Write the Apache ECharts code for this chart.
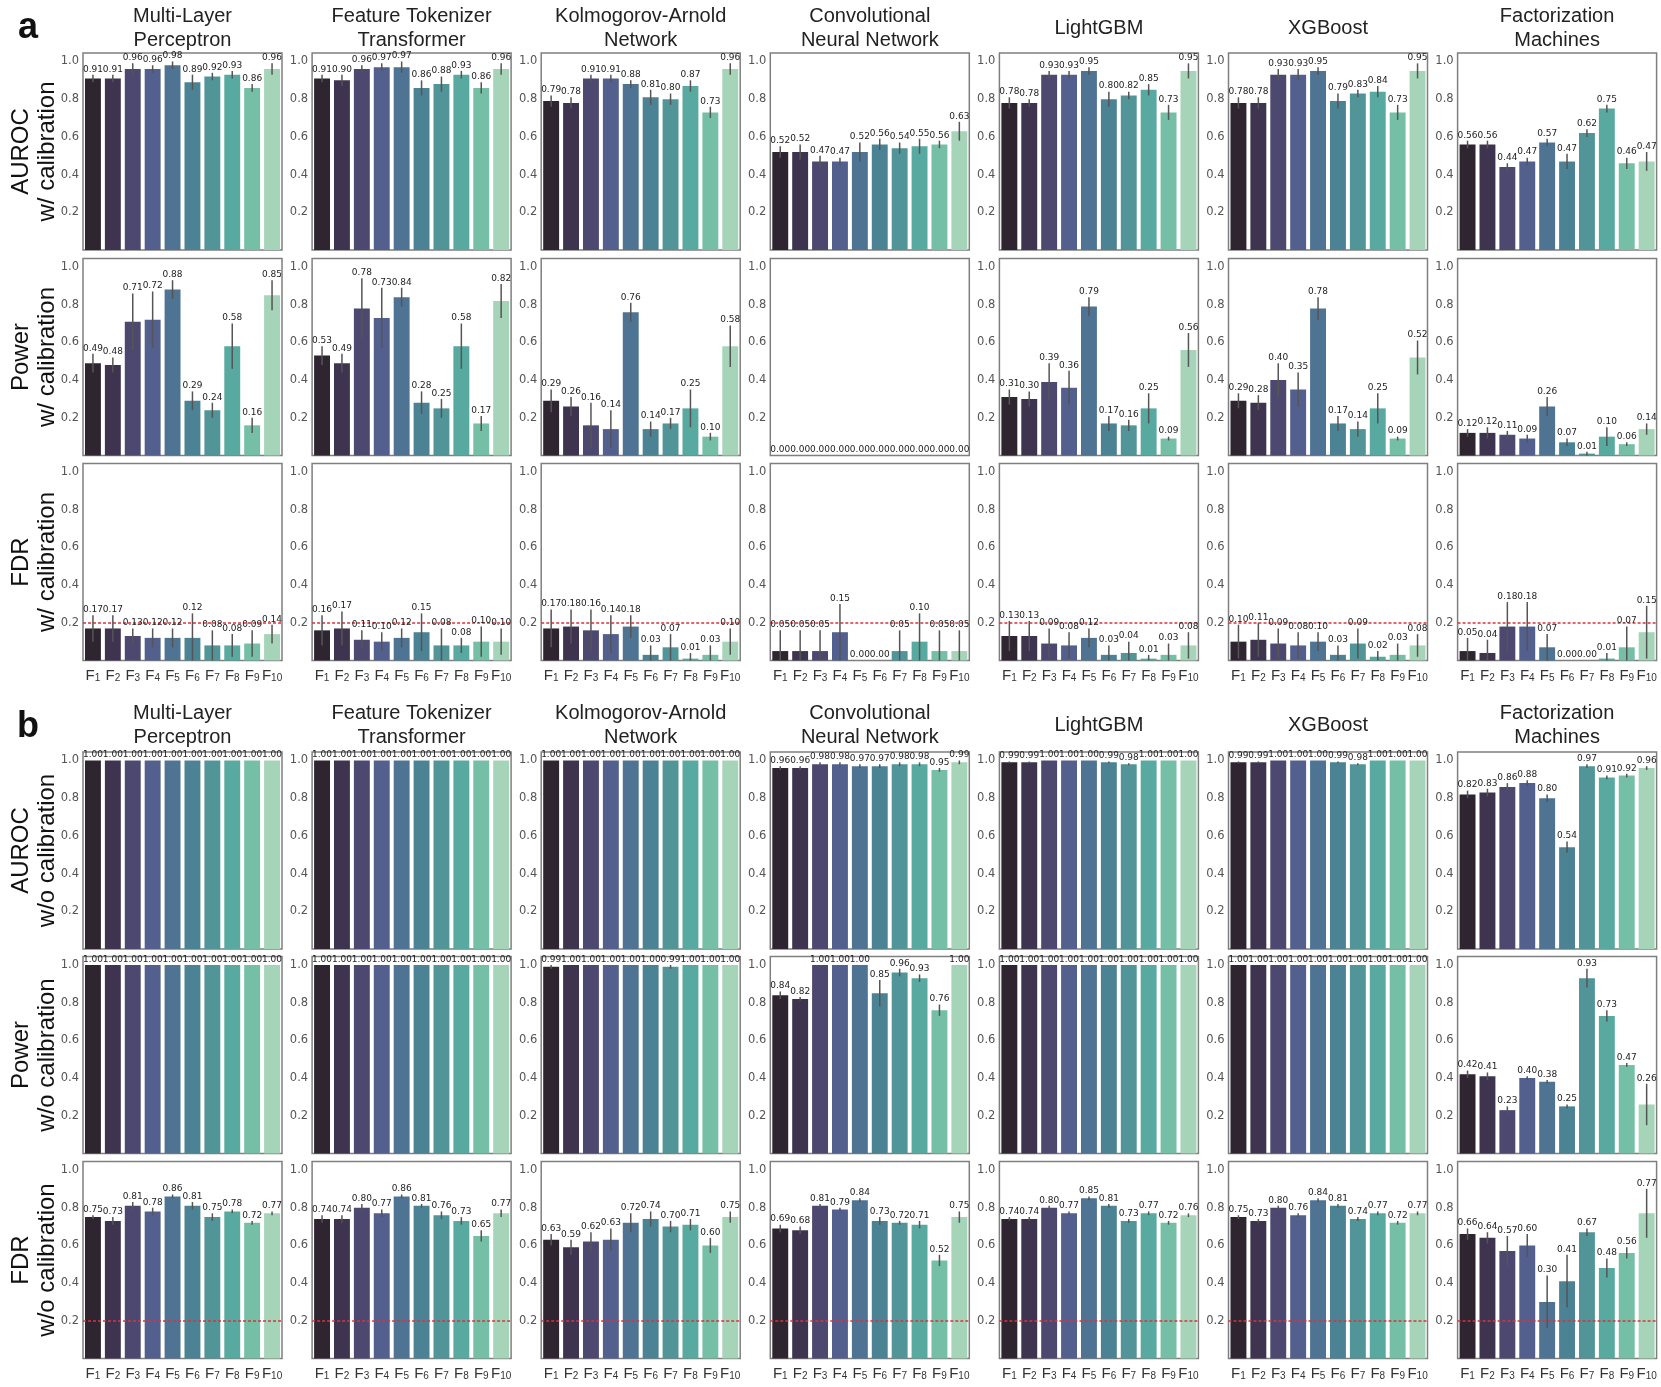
<!DOCTYPE html>
<html>
<head>
<meta charset="utf-8">
<script src="https://cdn.jsdelivr.net/npm/echarts@6/dist/echarts.min.js"></script>
<style>
  html, body { margin: 0; padding: 0; background: #fff; }
  #main { width: 1661px; height: 1387px; }
</style>
</head>
<body>
<div id="main"></div>
<script>
const categories = ['F1', 'F2', 'F3', 'F4', 'F5', 'F6', 'F7', 'F8', 'F9', 'F10'];
const modelNames = ['Multi-Layer\nPerceptron', 'Feature Tokenizer\nTransformer', 'Kolmogorov-Arnold\nNetwork',
    'Convolutional\nNeural Network', 'LightGBM', 'XGBoost', 'Factorization\nMachines'];
const rowNames = ['AUROC\nw/ calibration', 'Power\nw/ calibration', 'FDR\nw/ calibration',
    'AUROC\nw/o calibration', 'Power\nw/o calibration', 'FDR\nw/o calibration'];
const yTicks = [0.2, 0.4, 0.6, 0.8, 1.0];
const fdrTarget = 0.2;
const barColors = ['#2e2531', '#3f344f', '#4c4870', '#535f8c', '#4e7393', '#4c8394',
    '#519598', '#58a99f', '#74bfa6', '#a5d4b9'];

// panel a: with calibration (one array per model, in modelNames order)
const aurocCal = [
    [0.91, 0.91, 0.96, 0.96, 0.98, 0.89, 0.92, 0.93, 0.86, 0.96],
    [0.91, 0.90, 0.96, 0.97, 0.97, 0.86, 0.88, 0.93, 0.86, 0.96],
    [0.79, 0.78, 0.91, 0.91, 0.88, 0.81, 0.80, 0.87, 0.73, 0.96],
    [0.52, 0.52, 0.47, 0.47, 0.52, 0.56, 0.54, 0.55, 0.56, 0.63],
    [0.78, 0.78, 0.93, 0.93, 0.95, 0.80, 0.82, 0.85, 0.73, 0.95],
    [0.78, 0.78, 0.93, 0.93, 0.95, 0.79, 0.83, 0.84, 0.73, 0.95],
    [0.56, 0.56, 0.44, 0.47, 0.57, 0.47, 0.62, 0.75, 0.46, 0.47]
];
const aurocCalErr = [
    [0.02, 0.02, 0.03, 0.02, 0.02, 0.04, 0.02, 0.02, 0.02, 0.03],
    [0.02, 0.03, 0.02, 0.02, 0.03, 0.04, 0.04, 0.02, 0.03, 0.03],
    [0.03, 0.03, 0.02, 0.02, 0.02, 0.04, 0.03, 0.03, 0.03, 0.03],
    [0.03, 0.04, 0.03, 0.02, 0.05, 0.03, 0.03, 0.04, 0.02, 0.05],
    [0.03, 0.02, 0.02, 0.02, 0.02, 0.04, 0.02, 0.03, 0.04, 0.04],
    [0.03, 0.03, 0.03, 0.03, 0.02, 0.04, 0.02, 0.03, 0.04, 0.04],
    [0.02, 0.02, 0.02, 0.02, 0.02, 0.04, 0.02, 0.02, 0.03, 0.05]
];
const powerCal = [
    [0.49, 0.48, 0.71, 0.72, 0.88, 0.29, 0.24, 0.58, 0.16, 0.85],
    [0.53, 0.49, 0.78, 0.73, 0.84, 0.28, 0.25, 0.58, 0.17, 0.82],
    [0.29, 0.26, 0.16, 0.14, 0.76, 0.14, 0.17, 0.25, 0.10, 0.58],
    [0.00, 0.00, 0.00, 0.00, 0.00, 0.00, 0.00, 0.00, 0.00, 0.00],
    [0.31, 0.30, 0.39, 0.36, 0.79, 0.17, 0.16, 0.25, 0.09, 0.56],
    [0.29, 0.28, 0.40, 0.35, 0.78, 0.17, 0.14, 0.25, 0.09, 0.52],
    [0.12, 0.12, 0.11, 0.09, 0.26, 0.07, 0.01, 0.10, 0.06, 0.14]
];
const powerCalErr = [
    [0.05, 0.04, 0.15, 0.15, 0.05, 0.05, 0.04, 0.12, 0.04, 0.08],
    [0.05, 0.05, 0.16, 0.16, 0.05, 0.06, 0.05, 0.12, 0.04, 0.09],
    [0.06, 0.05, 0.12, 0.10, 0.05, 0.04, 0.03, 0.10, 0.02, 0.11],
    [0, 0, 0, 0, 0, 0, 0, 0, 0, 0],
    [0.04, 0.04, 0.10, 0.09, 0.05, 0.04, 0.03, 0.08, 0.01, 0.09],
    [0.04, 0.04, 0.09, 0.09, 0.06, 0.04, 0.04, 0.08, 0.01, 0.09],
    [0.02, 0.03, 0.02, 0.02, 0.05, 0.02, 0.01, 0.05, 0.01, 0.03]
];
const fdrCal = [
    [0.17, 0.17, 0.13, 0.12, 0.12, 0.12, 0.08, 0.08, 0.09, 0.14],
    [0.16, 0.17, 0.11, 0.10, 0.12, 0.15, 0.08, 0.08, 0.10, 0.10],
    [0.17, 0.18, 0.16, 0.14, 0.18, 0.03, 0.07, 0.01, 0.03, 0.10],
    [0.05, 0.05, 0.05, 0.15, 0.00, 0.00, 0.05, 0.10, 0.05, 0.05],
    [0.13, 0.13, 0.09, 0.08, 0.12, 0.03, 0.04, 0.01, 0.03, 0.08],
    [0.10, 0.11, 0.09, 0.08, 0.10, 0.03, 0.09, 0.02, 0.03, 0.08],
    [0.05, 0.04, 0.18, 0.18, 0.07, 0.00, 0.00, 0.01, 0.07, 0.15]
];
const fdrCalErr = [
    [0.07, 0.07, 0.04, 0.05, 0.05, 0.13, 0.08, 0.06, 0.07, 0.05],
    [0.08, 0.09, 0.05, 0.05, 0.05, 0.10, 0.09, 0.04, 0.08, 0.07],
    [0.10, 0.09, 0.11, 0.10, 0.06, 0.05, 0.07, 0.03, 0.05, 0.07],
    [0.11, 0.11, 0.11, 0.15, 0, 0, 0.11, 0.15, 0.11, 0.11],
    [0.08, 0.08, 0.08, 0.07, 0.05, 0.05, 0.06, 0.02, 0.06, 0.07],
    [0.09, 0.09, 0.08, 0.07, 0.05, 0.05, 0.08, 0.03, 0.06, 0.06],
    [0.07, 0.07, 0.13, 0.13, 0.07, 0, 0, 0.03, 0.11, 0.14]
];

// panel b: without calibration
const aurocRaw = [
    [1.00, 1.00, 1.00, 1.00, 1.00, 1.00, 1.00, 1.00, 1.00, 1.00],
    [1.00, 1.00, 1.00, 1.00, 1.00, 1.00, 1.00, 1.00, 1.00, 1.00],
    [1.00, 1.00, 1.00, 1.00, 1.00, 1.00, 1.00, 1.00, 1.00, 1.00],
    [0.96, 0.96, 0.98, 0.98, 0.97, 0.97, 0.98, 0.98, 0.95, 0.99],
    [0.99, 0.99, 1.00, 1.00, 1.00, 0.99, 0.98, 1.00, 1.00, 1.00],
    [0.99, 0.99, 1.00, 1.00, 1.00, 0.99, 0.98, 1.00, 1.00, 1.00],
    [0.82, 0.83, 0.86, 0.88, 0.80, 0.54, 0.97, 0.91, 0.92, 0.96]
];
const aurocRawErr = [
    [0, 0, 0, 0, 0, 0, 0, 0, 0, 0],
    [0, 0, 0, 0, 0, 0, 0, 0, 0, 0],
    [0, 0, 0, 0, 0, 0, 0, 0, 0, 0],
    [0.01, 0.01, 0.01, 0.01, 0.01, 0.01, 0.01, 0.01, 0.01, 0.01],
    [0.005, 0.005, 0, 0, 0, 0.005, 0.005, 0, 0, 0],
    [0.005, 0.005, 0, 0, 0, 0.005, 0.005, 0, 0, 0],
    [0.02, 0.02, 0.02, 0.015, 0.02, 0.03, 0.01, 0.01, 0.01, 0.01]
];
const powerRaw = [
    [1.00, 1.00, 1.00, 1.00, 1.00, 1.00, 1.00, 1.00, 1.00, 1.00],
    [1.00, 1.00, 1.00, 1.00, 1.00, 1.00, 1.00, 1.00, 1.00, 1.00],
    [0.99, 1.00, 1.00, 1.00, 1.00, 1.00, 0.99, 1.00, 1.00, 1.00],
    [0.84, 0.82, 1.00, 1.00, 1.00, 0.85, 0.96, 0.93, 0.76, 1.00],
    [1.00, 1.00, 1.00, 1.00, 1.00, 1.00, 1.00, 1.00, 1.00, 1.00],
    [1.00, 1.00, 1.00, 1.00, 1.00, 1.00, 1.00, 1.00, 1.00, 1.00],
    [0.42, 0.41, 0.23, 0.40, 0.38, 0.25, 0.93, 0.73, 0.47, 0.26]
];
const powerRawErr = [
    [0, 0, 0, 0, 0, 0, 0, 0, 0, 0],
    [0, 0, 0, 0, 0, 0, 0, 0, 0, 0],
    [0.01, 0, 0, 0, 0, 0, 0.01, 0, 0, 0],
    [0.02, 0.01, 0, 0, 0, 0.07, 0.02, 0.02, 0.03, 0],
    [0, 0, 0, 0, 0, 0, 0, 0, 0, 0],
    [0, 0, 0, 0, 0, 0, 0, 0, 0, 0],
    [0.02, 0.02, 0.02, 0.01, 0.01, 0.01, 0.05, 0.03, 0.01, 0.11]
];
const fdrRaw = [
    [0.75, 0.73, 0.81, 0.78, 0.86, 0.81, 0.75, 0.78, 0.72, 0.77],
    [0.74, 0.74, 0.80, 0.77, 0.86, 0.81, 0.76, 0.73, 0.65, 0.77],
    [0.63, 0.59, 0.62, 0.63, 0.72, 0.74, 0.70, 0.71, 0.60, 0.75],
    [0.69, 0.68, 0.81, 0.79, 0.84, 0.73, 0.72, 0.71, 0.52, 0.75],
    [0.74, 0.74, 0.80, 0.77, 0.85, 0.81, 0.73, 0.77, 0.72, 0.76],
    [0.75, 0.73, 0.80, 0.76, 0.84, 0.81, 0.74, 0.77, 0.72, 0.77],
    [0.66, 0.64, 0.57, 0.60, 0.30, 0.41, 0.67, 0.48, 0.56, 0.77]
];
const fdrRawErr = [
    [0.01, 0.02, 0.02, 0.02, 0.01, 0.02, 0.02, 0.01, 0.01, 0.01],
    [0.02, 0.02, 0.02, 0.02, 0.01, 0.01, 0.02, 0.02, 0.03, 0.02],
    [0.03, 0.04, 0.05, 0.06, 0.05, 0.04, 0.03, 0.03, 0.04, 0.03],
    [0.02, 0.02, 0.01, 0.01, 0.01, 0.02, 0.01, 0.02, 0.03, 0.03],
    [0.01, 0.01, 0.01, 0.01, 0.01, 0.01, 0.01, 0.01, 0.01, 0.01],
    [0.01, 0.01, 0.01, 0.01, 0.01, 0.01, 0.01, 0.01, 0.01, 0.01],
    [0.03, 0.03, 0.08, 0.06, 0.14, 0.14, 0.02, 0.05, 0.03, 0.13]
];

const rows = [
    [aurocCal, aurocCalErr], [powerCal, powerCalErr], [fdrCal, fdrCalErr],
    [aurocRaw, aurocRawErr], [powerRaw, powerRawErr], [fdrRaw, fdrRawErr]
];

// layout
const colLeft = 83, colStep = 229.1, panelW = 199, panelH = 197;
const rowTop = [53, 258.5, 463.5, 752, 956.5, 1161.5];
const yMax = 1.045;

function renderErr(params, api) {
    const x = api.value(0), v = api.value(1), lo = api.value(2), hi = api.value(3);
    const top = api.coord([x, hi]);
    const bot = api.coord([x, lo]);
    const children = [];
    if (hi - lo > 0.001) {
        children.push({
            type: 'line',
            shape: { x1: top[0], y1: top[1], x2: bot[0], y2: bot[1] },
            style: { stroke: '#555', lineWidth: 1.5 }
        });
    }
    children.push({
        type: 'text',
        x: top[0], y: top[1] - 1,
        style: {
            text: v.toFixed(2), fontSize: 9, fontFamily: 'DejaVu Sans', fill: '#222',
            align: 'center', verticalAlign: 'bottom'
        }
    });
    return { type: 'group', children: children };
}

const grid = [], xAxis = [], yAxis = [], series = [], graphic = [];

rows.forEach(([vals, errs], r) => {
    const isFdr = (r === 2 || r === 5);
    vals.forEach((arr, c) => {
        const gi = grid.length;
        grid.push({
            left: colLeft + c * colStep, top: rowTop[r], width: panelW, height: panelH,
            show: true, borderColor: '#7f7f7f', borderWidth: 1.5, backgroundColor: 'transparent'
        });
        xAxis.push({
            type: 'category', gridIndex: gi, data: categories,
            axisLine: { show: false }, axisTick: { show: false }, splitLine: { show: false },
            axisLabel: {
                show: isFdr, interval: 0, margin: 6,
                formatter: v => '{f|F}{s|' + v.slice(1) + '}',
                rich: {
                    f: { fontSize: 15, fontFamily: 'Liberation Sans', color: '#333', verticalAlign: 'bottom', lineHeight: 17 },
                    s: { fontSize: 10, fontFamily: 'Liberation Sans', color: '#333', verticalAlign: 'bottom', lineHeight: 12 }
                }
            }
        });
        yAxis.push({
            type: 'value', gridIndex: gi, min: 0, max: yMax, interval: 0.2,
            axisLine: { show: false }, axisTick: { show: false }, splitLine: { show: false },
            axisLabel: {
                margin: 4, fontSize: 11.5, fontFamily: 'DejaVu Sans', color: '#555',
                formatter: v => {
                    const hit = yTicks.find(t => Math.abs(t - v) < 1e-6);
                    return hit === undefined ? '' : hit.toFixed(1);
                }
            }
        });
        const bar = {
            type: 'bar', xAxisIndex: gi, yAxisIndex: gi, barCategoryGap: '20%',
            data: arr.map((v, i) => ({ value: v, itemStyle: { color: barColors[i] } })),
            silent: true
        };
        if (isFdr) {
            bar.markLine = {
                symbol: 'none', silent: true, label: { show: false },
                lineStyle: { color: '#d9333f', type: [3, 2], width: 1.6 },
                data: [{ yAxis: fdrTarget }]
            };
        }
        series.push(bar);
        series.push({
            type: 'custom', xAxisIndex: gi, yAxisIndex: gi, clip: false, silent: true, z: 5,
            renderItem: renderErr,
            data: arr.map((v, i) => {
                const e = errs[c][i];
                return [i, v, Math.max(0, v - e), Math.min(1, v + e)];
            })
        });
    });
});

// column titles for both panels
[28.3, 725.5].forEach(cy => {
    modelNames.forEach((name, c) => {
        graphic.push({
            type: 'text', x: colLeft + c * colStep + panelW / 2, y: cy,
            style: {
                text: name, fontSize: 20, fontFamily: 'Liberation Sans', fill: '#222',
                align: 'center', verticalAlign: 'middle', lineHeight: 24.5
            }
        });
    });
});

// row labels
rowNames.forEach((name, r) => {
    graphic.push({
        type: 'text', x: 34, y: rowTop[r] + panelH / 2, rotation: Math.PI / 2,
        style: {
            text: name, fontSize: 24, fontFamily: 'Liberation Sans', fill: '#111',
            align: 'center', verticalAlign: 'middle', lineHeight: 26
        }
    });
});

// panel letters
[['a', 28], ['b', 727]].forEach(([t, y]) => {
    graphic.push({
        type: 'text', x: 28, y: y,
        style: { text: t, fontSize: 36, fontWeight: 'bold', fontFamily: 'Liberation Sans', fill: '#111', align: 'center', verticalAlign: 'middle' }
    });
});

const chart = echarts.init(document.getElementById('main'));
chart.setOption({
    animation: false,
    backgroundColor: '#fff',
    grid: grid,
    xAxis: xAxis,
    yAxis: yAxis,
    series: series,
    graphic: graphic
});
</script>
</body>
</html>
